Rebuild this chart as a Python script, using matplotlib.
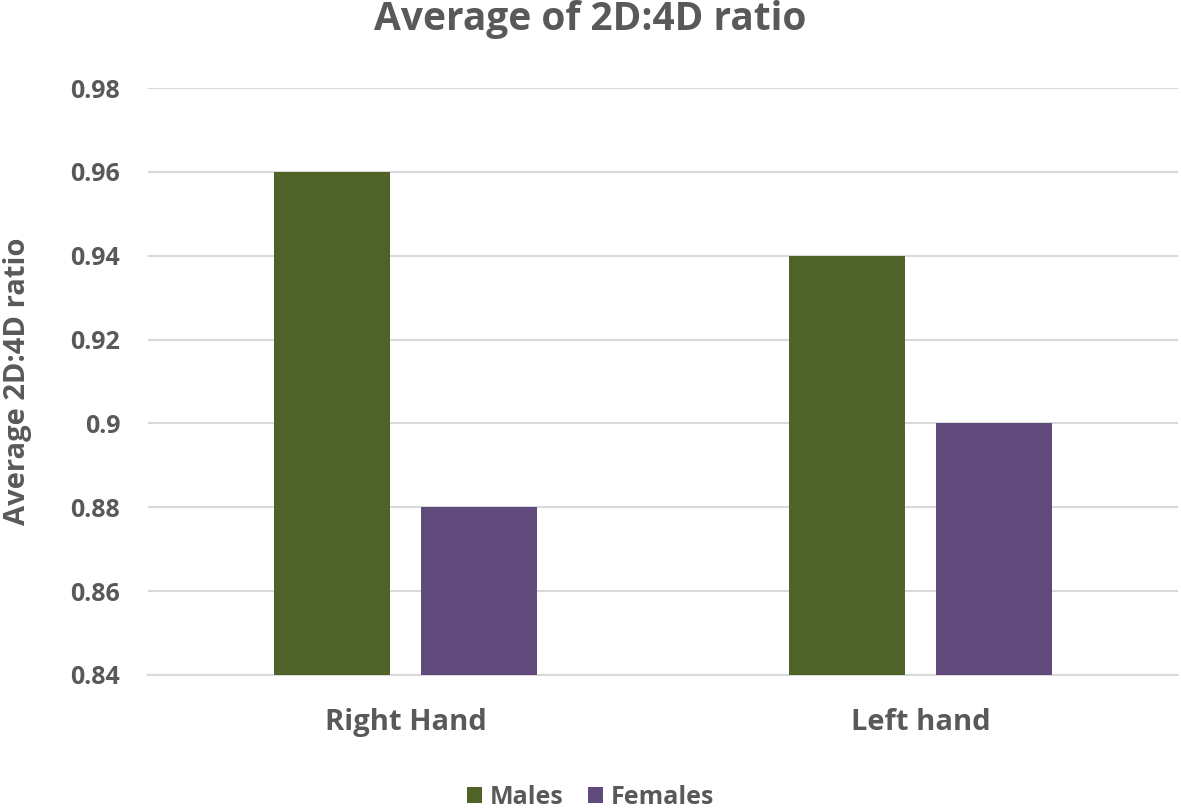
import matplotlib.pyplot as plt
import numpy as np

# data
categories = ['Right Hand', 'Left hand']
males = [0.96, 0.94]
females = [0.88, 0.90]
series_names = ['Males', 'Females']
yticks = [0.84, 0.86, 0.88, 0.90, 0.92, 0.94, 0.96, 0.98]
ytick_labels = ['0.84', '0.86', '0.88', '0.9', '0.92', '0.94', '0.96', '0.98']

text_color = '#595959'
plt.rcParams['font.family'] = ['Open Sans', 'DejaVu Sans']
plt.rcParams['font.weight'] = 'bold'

fig = plt.figure(figsize=(11.81, 8.08), dpi=100)
ax = fig.add_axes([148 / 1181, 1 - 675 / 808, 1030 / 1181, (675 - 88) / 808])

x = np.arange(len(categories))
width = 0.225
offset = 0.143
ax.bar(x - offset, males, width, bottom=0, color='#4F6228', label=series_names[0], zorder=3)
ax.bar(x + offset, females, width, bottom=0, color='#604A7B', label=series_names[1], zorder=3)

ax.set_xlim(-0.5, 1.5)
ax.set_ylim(0.84, 0.98)
ax.set_yticks(yticks)
ax.set_yticklabels(ytick_labels)
ax.set_xticks(x)
ax.set_xticklabels(categories, fontsize=21, color=text_color, fontweight='bold')
ax.tick_params(axis='y', labelsize=18, labelcolor=text_color, length=0, pad=20)
ax.tick_params(axis='x', length=0, pad=24)
ax.grid(axis='y', color='#D9D9D9', linewidth=1.5, zorder=0)
for s in ['top', 'right', 'left']:
    ax.spines[s].set_visible(False)
ax.spines['bottom'].set_color('#D9D9D9')
ax.spines['bottom'].set_linewidth(1.5)

ax.set_ylabel('Average 2D:4D ratio', fontsize=21, color=text_color,
              fontweight='bold', labelpad=28)
fig.suptitle('Average of 2D:4D ratio', fontsize=28, color=text_color,
             fontweight='bold', y=1.0)

fig.legend(loc='lower center', bbox_to_anchor=(0.5, -0.03), ncol=2, frameon=False,
           labelcolor=text_color, handlelength=0.6, handleheight=0.6,
           columnspacing=1.0, handletextpad=0.3, prop={'weight': 'bold', 'size': 18})

fig.savefig('out.png', dpi=100)
